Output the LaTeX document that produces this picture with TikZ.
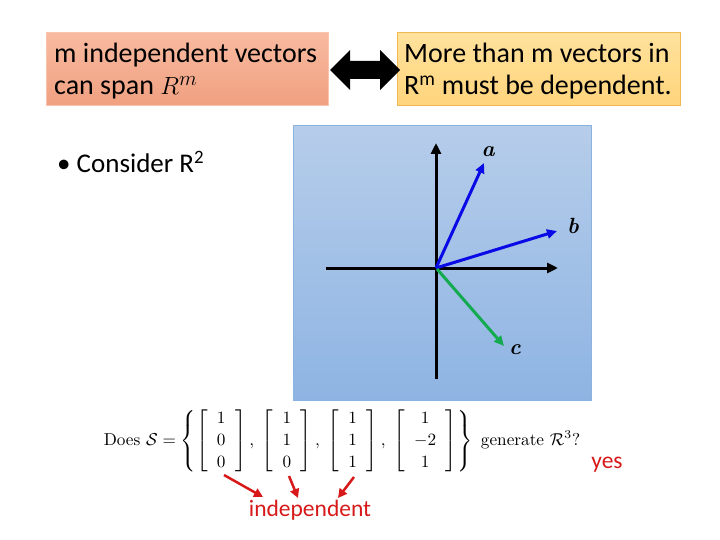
\documentclass[tikz,border=0pt]{standalone}
\usepackage{amsmath}
\usepackage{fontspec}
\newfontfamily\carl{Carlito}
\usetikzlibrary{arrows.meta}
\definecolor{salmonT}{RGB}{248,186,160}
\definecolor{salmonB}{RGB}{240,160,128}
\definecolor{salmonE}{RGB}{250,196,172}
\definecolor{goldT}{RGB}{255,226,156}
\definecolor{goldB}{RGB}{255,212,124}
\definecolor{goldE}{RGB}{240,184,80}
\definecolor{skyT}{RGB}{182,205,234}
\definecolor{skyB}{RGB}{142,180,227}
\definecolor{skyE}{RGB}{140,178,224}
\definecolor{vblue}{RGB}{10,10,230}
\definecolor{vgreen}{RGB}{20,170,80}
\definecolor{myred}{RGB}{215,25,25}
\newcommand{\pv}[3]{\begin{bmatrix}\hspace{5.5pt}#1\hspace{5.5pt}\\\hspace{5.5pt}#2\hspace{5.5pt}\\\hspace{5.5pt}#3\hspace{5.5pt}\end{bmatrix}}
\tikzset{
  boxtext/.style={font=\carl\fontsize{28}{32}\selectfont, align=left, anchor=west, inner sep=0pt},
  axis/.style={line width=3pt, -{Triangle[length=11pt,width=10pt]}},
  vec/.style={line width=3pt, -{Triangle[length=10pt,width=9pt]}},
  vlabel/.style={font=\fontsize{22}{22}\selectfont\bfseries\itshape, inner sep=0pt},
  redarrow/.style={myred, line width=2.5pt, -{Triangle[length=9pt,width=9pt]}},
  redtext/.style={myred, font=\carl\fontsize{23.5}{26}\selectfont, inner sep=0pt}
}
\begin{document}
\begin{tikzpicture}[x=1pt,y=-1pt]
\useasboundingbox (0,0) rectangle (720,540);
% top boxes
\path[top color=salmonT, bottom color=salmonB, draw=salmonE, line width=1pt] (46,33) rectangle (328,106);
\node[boxtext] (left) at (54,71) {m independent vectors\\can span \(R^{m}\)};
\path[top color=goldT, bottom color=goldB, draw=goldE, line width=1pt] (397,33) rectangle (680,106);
\node[boxtext] (right) at (404,71) {More than m vectors in\\R\textsuperscript{m} must be dependent.};
% double arrow
\fill[black] (330,70) -- (350,50) -- (350,61) -- (380,61) -- (380,50) -- (400,70) -- (380,90) -- (380,79) -- (350,79) -- (350,90) -- cycle;
% bullet
\node[font=\carl\fontsize{27}{30}\selectfont, anchor=west, inner sep=0pt] (consider) at (57,162) {\textbullet\ Consider R\textsuperscript{2}};
% plane
\path[top color=skyT, bottom color=skyB, draw=skyE, line width=1pt] (293,126) rectangle (591,400);
\coordinate (O) at (436,268);
\coordinate (xl) at (326,268);
\coordinate (xr) at (558,268);
\coordinate (yb) at (436,379);
\coordinate (yt) at (436,143);
\draw[axis] (xl) -- (xr);
\draw[axis] (yb) -- (yt);
\coordinate (A) at (484,163);
\coordinate (B) at (557,231);
\coordinate (C) at (504,346);
\draw[vec, vblue] (O) -- (A);
\draw[vec, vblue] (O) -- (B);
\draw[vec, vgreen] (437,269) -- (C);
\node[vlabel] (la) at (488,152) {a};
\node[vlabel] (lb) at (573,226) {b};
\node[vlabel] (lc) at (515,350) {c};
% math
\node[inner sep=0pt, scale=1.72] (eq) at (342,441) {\renewcommand{\arraystretch}{1.07}\(\displaystyle \text{Does } \mathcal{S}=\left\{\pv{1}{0}{0},\;\pv{1}{1}{0},\;\pv{1}{1}{1},\;\pv{1}{-2}{1}\right\}\ \text{generate } \mathcal{R}^3?\)};
\node[redtext] (yes) at (607,465) {yes};
\node[redtext] (ind) at (310,510) {independent};
\coordinate (s1) at (224,475);
\coordinate (s2) at (289,476);
\coordinate (s3) at (354,477);
\draw[redarrow] (s1) -- (263,497);
\draw[redarrow] (s2) -- (298,498);
\draw[redarrow] (s3) -- (338,498);
\end{tikzpicture}
\end{document}
